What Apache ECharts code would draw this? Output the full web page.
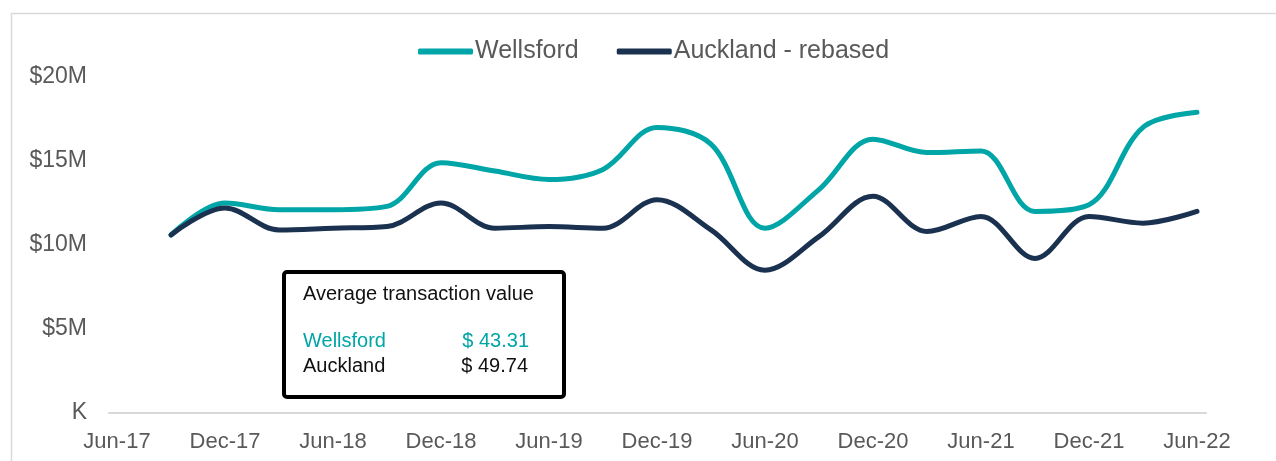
<!DOCTYPE html>
<html>
<head>
<meta charset="utf-8">
<script src="https://cdn.jsdelivr.net/npm/echarts@6/dist/echarts.min.js"></script>
<style>
html,body{margin:0;padding:0;background:#fff;}
#chart{width:1276px;height:461px;}
</style>
</head>
<body>
<div id="chart"></div>
<script>
// Quarterly observations (Sep-17 .. Jun-22)
const quarters = ['Sep-17','Dec-17','Mar-18','Jun-18','Sep-18','Dec-18','Mar-19','Jun-19','Sep-19','Dec-19',
                  'Mar-20','Jun-20','Sep-20','Dec-20','Mar-21','Jun-21','Sep-21','Dec-21','Mar-22','Jun-22'];
// Values in $M
const wellsford = [10.6,12.5,12.1,12.1,12.3,14.9,14.4,13.9,14.5,17.0,16.0,11.0,13.3,16.3,15.5,15.6,12.0,12.4,17.0,17.9];
const auckland  = [10.6,12.2,10.9,11.0,11.1,12.5,11.0,11.1,11.0,12.7,10.9,8.5,10.5,12.9,10.8,11.7,9.2,11.7,11.3,12.0];
// Axis tick labels (every 6 months, starting Jun-17)
const tickLabels = ['Jun-17','Dec-17','Jun-18','Dec-18','Jun-19','Dec-19','Jun-20','Dec-20','Jun-21','Dec-21','Jun-22'];
const yTicks = [0,5,10,15,20];
const seriesNames = ['Wellsford','Auckland - rebased'];
const boxTitle = 'Average transaction value';
const boxRows = [['Wellsford','$ 43.31'],['Auckland','$ 49.74']];

const TEAL = '#00A5A7';
const NAVY = '#1B3150';
const GREY = '#595959';
const FONT = '"Liberation Sans", Arial, sans-serif';

const tickPositions = tickLabels.map((_, i) => i * 2);
const toPairs = arr => arr.map((v, i) => [i + 1, v]);

const chart = echarts.init(document.getElementById('chart'), null, {renderer: 'canvas'});
chart.setOption({
  backgroundColor: '#fff',
  animation: false,
  textStyle: {fontFamily: FONT},
  legend: {
    data: seriesNames,
    left: 413,
    top: 34,
    itemWidth: 55,
    itemHeight: 6,
    itemGap: 38,
    icon: 'roundRect',
    textStyle: {fontSize: 25, color: GREY, fontFamily: FONT, padding: [0, 0, 0, -3]}
  },
  grid: {left: 109, right: 70, top: 77, bottom: 48},
  xAxis: {
    type: 'value',
    min: -0.148,
    max: 20.167,
    axisLine: {show: true, lineStyle: {color: '#D9D9D9', width: 2}},
    axisTick: {show: false},
    splitLine: {show: false},
    axisLabel: {
      customValues: tickPositions,
      formatter: v => tickLabels[Math.round(v / 2)],
      fontSize: 22,
      color: GREY,
      fontFamily: FONT,
      margin: 18
    }
  },
  yAxis: {
    type: 'value',
    min: 0,
    max: 20,
    interval: 5,
    axisLine: {show: false},
    axisTick: {show: false},
    splitLine: {show: false},
    axisLabel: {
      formatter: v => v === 0 ? 'K' : '$' + v + 'M',
      fontSize: 23,
      color: GREY,
      fontFamily: FONT,
      margin: 22
    }
  },
  series: [
    {
      name: seriesNames[0],
      type: 'line',
      data: toPairs(wellsford),
      smooth: 0.35,
      symbol: 'none',
      lineStyle: {color: TEAL, width: 5, cap: 'round'},
      itemStyle: {color: TEAL}
    },
    {
      name: seriesNames[1],
      type: 'line',
      data: toPairs(auckland),
      smooth: 0.35,
      symbol: 'none',
      lineStyle: {color: NAVY, width: 5, cap: 'round'},
      itemStyle: {color: NAVY}
    }
  ],
  graphic: [
    {
      type: 'rect',
      left: 9, top: 11, silent: true,
      shape: {width: 1300, height: 500},
      style: {fill: 'none', stroke: '#D9D9D9', lineWidth: 1.5}
    },
    {
      type: 'rect',
      left: 282, top: 270,
      shape: {width: 280, height: 125, r: 3},
      style: {fill: '#fff', stroke: '#000', lineWidth: 4},
      z: 10
    },
    {
      type: 'text', left: 303, top: 284, z: 11,
      style: {text: boxTitle, font: '20px ' + FONT, fill: '#111'}
    },
    {
      type: 'text', left: 303, top: 331, z: 11,
      style: {text: boxRows[0][0], font: '20px ' + FONT, fill: TEAL}
    },
    {
      type: 'text', right: 1276 - 529, top: 331, z: 11,
      style: {text: boxRows[0][1], font: '20px ' + FONT, fill: TEAL}
    },
    {
      type: 'text', left: 303, top: 356, z: 11,
      style: {text: boxRows[1][0], font: '20px ' + FONT, fill: '#111'}
    },
    {
      type: 'text', right: 1276 - 528, top: 356, z: 11,
      style: {text: boxRows[1][1], font: '20px ' + FONT, fill: '#111'}
    }
  ]
});
</script>
</body>
</html>
